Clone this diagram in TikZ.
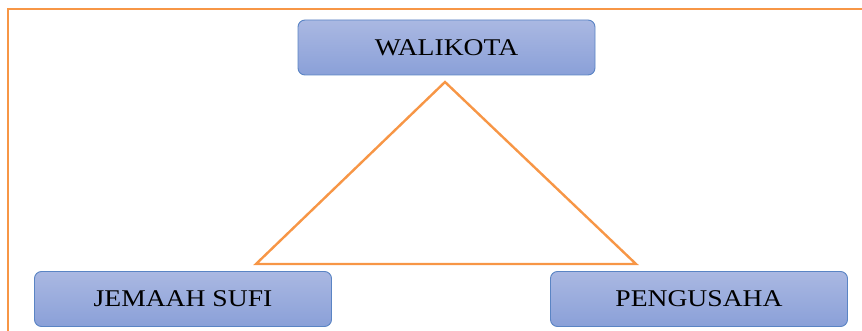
\documentclass[tikz,border=0pt]{standalone}
\usepackage{fontspec}
\setmainfont[FakeStretch=1.15]{Liberation Serif}
\definecolor{boxtop}{HTML}{AAB8E2}
\definecolor{boxbot}{HTML}{8AA0D8}
\definecolor{boxline}{HTML}{5A84C4}
\definecolor{orng}{HTML}{F79646}
\tikzset{
  rolebox/.style={draw=boxline, line width=0.9pt, rounded corners=7pt,
    top color=boxtop, bottom color=boxbot, minimum width=297pt, minimum height=55pt,
    font=\fontsize{24}{28}\selectfont, text=black, inner sep=0pt},
  orline/.style={draw=orng, line width=2.8pt}
}
\begin{document}
\begin{tikzpicture}[x=1pt,y=-1pt]
\useasboundingbox (0,0) rectangle (862,331);
\coordinate (c1) at (8,331);
\coordinate (c2) at (8,9);
\coordinate (c3) at (862,9);
\draw[orline, line cap=butt, line join=miter] (c1) -- (c2) -- (c3);
\node[rolebox] (w) at (446.5,47.5) {WALIKOTA};
\node[rolebox] (j) at (183,299) {JEMAAH SUFI};
\node[rolebox] (p) at (699,299) {PENGUSAHA};
\coordinate (ta) at (445,82);
\coordinate (tl) at (256,264);
\coordinate (tr) at (636,264);
\draw[orline, line width=2.4pt, line join=miter] (ta) -- (tr) -- (tl) -- cycle;
\end{tikzpicture}
\end{document}
